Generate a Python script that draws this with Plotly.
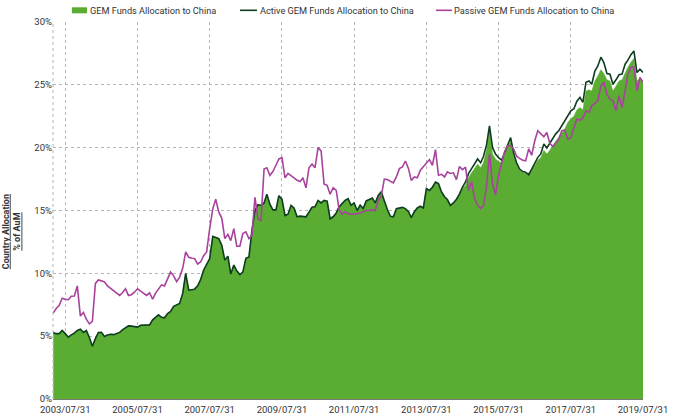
import pandas as pd
import plotly.graph_objects as go

# monthly observations, month-end, 2003/03 .. 2019/07
START = "2003-03-31"
END = "2019-07-31"

# GEM funds (all) allocation to China, % of AuM
GEM = [
    5.3, 5.2, 5.2, 5.45, 5.2, 4.92, 5.1, 5.24, 5.45, 5.56,
    5.3, 5.45, 4.9, 4.2, 4.8, 5.29, 5.3, 4.97, 5.1, 5.15,
    5.12, 5.2, 5.3, 5.5, 5.7, 5.82, 5.8, 5.75, 5.72, 5.87,
    5.87, 5.9, 5.9, 6.3, 6.5, 6.7, 6.5, 6.46, 6.8, 6.97,
    7.37, 7.5, 7.6, 8.4, 10.0, 8.66, 8.7, 8.74, 9.0, 9.5,
    10.26, 10.7, 11.18, 12.95, 12.85, 12.76, 12.24, 11.05, 11.37, 9.95,
    10.66, 10.2, 9.9, 10.1, 11.2, 11.3, 13.4, 15.0, 15.47, 15.4,
    15.6, 16.3, 15.5, 15.05, 15.05, 16.18, 15.9, 14.6, 14.7, 15.4,
    15.2, 14.5, 14.55, 14.55, 14.5, 14.87, 15.26, 15.3, 15.8, 15.6,
    15.8, 15.75, 14.34, 14.5, 14.8, 15.29, 15.55, 15.8, 15.95, 15.42,
    15.6, 15.0, 15.42, 15.15, 15.76, 15.9, 16.0, 15.6, 16.2, 16.5,
    15.7, 15.1, 14.55, 14.5, 15.15, 15.2, 15.25, 15.15, 14.9, 14.44,
    14.9, 15.2, 15.34, 15.2, 16.74, 16.6, 16.85, 17.27, 17.15, 16.48,
    16.1, 15.87, 15.4, 15.6, 15.9, 16.3, 16.8, 17.0, 17.6, 18.0,
    18.4, 18.7, 18.4, 18.8, 19.8, 21.4, 19.5, 19.1, 18.9, 18.8,
    19.4, 20.1, 20.5, 19.3, 18.6, 18.2, 18.0, 17.95, 17.8, 18.2,
    18.7, 19.0, 19.2, 19.8, 19.5, 19.8, 20.2, 20.5, 20.8, 21.1,
    21.5, 22.0, 22.3, 22.5, 23.0, 23.2, 23.0, 24.5, 24.6, 24.5,
    25.3, 25.7, 26.2, 25.9, 25.4, 25.3, 24.5, 24.9, 25.3, 25.4,
    26.0, 26.4, 26.8, 27.1, 25.3, 25.5, 25.2,
]

# active GEM funds allocation to China, % of AuM
ACTIVE = [
    5.3, 5.2, 5.2, 5.45, 5.2, 4.92, 5.1, 5.24, 5.45, 5.56,
    5.3, 5.45, 4.9, 4.2, 4.8, 5.29, 5.3, 4.97, 5.1, 5.15,
    5.12, 5.2, 5.3, 5.5, 5.7, 5.82, 5.8, 5.75, 5.72, 5.87,
    5.87, 5.9, 5.9, 6.3, 6.5, 6.7, 6.5, 6.46, 6.8, 6.97,
    7.37, 7.5, 7.6, 8.4, 10.0, 8.66, 8.7, 8.74, 9.0, 9.5,
    10.26, 10.7, 11.18, 12.95, 12.85, 12.76, 12.24, 11.05, 11.37, 9.95,
    10.66, 10.2, 9.9, 10.1, 11.2, 11.3, 13.4, 15.0, 15.47, 15.4,
    15.6, 16.3, 15.5, 15.05, 15.05, 16.18, 15.9, 14.6, 14.7, 15.4,
    15.2, 14.5, 14.55, 14.55, 14.5, 14.87, 15.26, 15.3, 15.8, 15.6,
    15.8, 15.75, 14.34, 14.5, 14.8, 15.29, 15.55, 15.8, 15.95, 15.42,
    15.6, 15.0, 15.42, 15.15, 15.76, 15.9, 16.0, 15.6, 16.2, 16.5,
    15.7, 15.1, 14.55, 14.5, 15.15, 15.2, 15.25, 15.15, 14.9, 14.44,
    14.9, 15.2, 15.34, 15.2, 16.74, 16.6, 16.85, 17.27, 17.15, 16.48,
    16.1, 15.87, 15.4, 15.6, 15.9, 16.3, 16.87, 17.27, 17.93, 18.33,
    18.73, 19.1, 18.8, 19.3, 20.2, 21.74, 20.0, 19.5, 19.2, 19.0,
    19.6, 20.3, 20.8, 19.55, 18.75, 18.3, 18.1, 18.04, 17.85, 18.3,
    18.83, 19.23, 19.5, 20.3, 19.97, 20.34, 20.7, 21.1, 21.35, 21.74,
    22.1, 22.6, 22.93, 23.1, 23.7, 24.0, 23.6, 25.2, 25.3, 25.05,
    26.1, 26.5, 27.2, 26.77, 25.9, 25.85, 25.05, 25.4, 25.8, 25.85,
    26.64, 26.96, 27.4, 27.7, 25.98, 26.24, 25.98,
]

# passive GEM funds allocation to China, % of AuM
PASSIVE = [
    6.83, 7.2, 7.46, 8.02, 7.94, 7.9, 8.18, 8.2, 9.0, 6.6,
    6.88, 6.35, 5.98, 6.17, 9.2, 9.48, 9.4, 9.31, 9.0, 8.8,
    8.58, 8.4, 8.24, 8.45, 8.77, 8.24, 8.3, 8.5, 8.77, 8.58,
    8.4, 8.24, 8.45, 7.94, 8.45, 8.8, 9.08, 9.0, 9.5, 10.1,
    9.8, 9.34, 9.7, 10.4, 11.7, 11.28, 11.2, 11.18, 10.74, 10.9,
    11.4, 11.7, 13.55, 15.13, 15.9, 14.87, 14.4, 12.76, 13.1, 12.6,
    13.55, 12.16, 12.16, 13.16, 13.3, 12.76, 13.0, 16.05, 14.34, 14.2,
    18.3, 18.4, 17.8, 18.1, 18.6, 19.1, 19.2, 17.6, 17.95, 17.8,
    17.6, 17.4, 17.3, 17.6, 16.8, 18.4, 18.7, 18.4, 20.0, 19.74,
    17.1, 17.0, 16.3, 16.8, 16.6, 15.1, 14.7, 14.9, 14.75, 14.7,
    14.7, 14.75, 14.8, 14.9, 15.0, 15.0, 15.05, 15.0, 15.8, 16.13,
    17.5, 17.46, 17.3, 17.2, 17.67, 18.33, 18.46, 18.94, 18.33, 17.4,
    17.67, 17.6, 18.2, 18.5, 18.78, 19.05, 18.6, 19.84, 17.8, 17.88,
    17.67, 18.07, 17.95, 18.0, 17.46, 18.5, 18.25, 18.45, 16.6, 17.27,
    15.95, 15.42, 15.15, 15.4, 16.85, 19.5, 17.1, 16.26, 17.8, 18.9,
    19.7, 20.15, 20.15, 19.9, 19.3, 19.15, 19.0, 18.95, 19.9, 19.4,
    20.55, 21.35, 21.08, 20.87, 21.2, 20.34, 20.07, 20.34, 20.68, 21.35,
    21.4, 20.68, 20.8, 21.6, 22.27, 22.2, 22.35, 22.93, 22.8, 23.33,
    23.5, 23.73, 24.9, 25.2, 24.26, 23.86, 23.73, 22.93, 24.13, 23.2,
    24.52, 25.85, 26.4, 26.43, 24.52, 25.58, 25.2,
]

SERIES_NAMES = ["GEM Funds Allocation to China",
                "Active GEM Funds Allocation to China",
                "Passive GEM Funds Allocation to China"]

X_TICKS = ["2003-07-31", "2005-07-31", "2007-07-31", "2009-07-31", "2011-07-31",
           "2013-07-31", "2015-07-31", "2017-07-31", "2019-07-31"]
X_TICK_LABELS = ["2003/07/31", "2005/07/31", "2007/07/31", "2009/07/31", "2011/07/31",
                 "2013/07/31", "2015/07/31", "2017/07/31", "2019/07/31"]
Y_TICKS = [0, 5, 10, 15, 20, 25, 30]
Y_TICK_LABELS = ["0%", "5%", "10%", "15%", "20%", "25%", "30%"]

dates = pd.date_range(START, END, freq="ME")

FONT = "Roboto, sans-serif"
GREEN = "#5aad32"
DARK = "#0e3d1f"
PURPLE = "#a8439d"

fig = go.Figure()
fig.add_trace(go.Scatter(
    x=dates, y=GEM, name=SERIES_NAMES[0],
    mode="lines", line=dict(color=GREEN, width=0.5),
    fill="tozeroy", fillcolor=GREEN,
))
fig.add_trace(go.Scatter(
    x=dates, y=ACTIVE, name=SERIES_NAMES[1],
    mode="lines", line=dict(color=DARK, width=1.6),
))
fig.add_trace(go.Scatter(
    x=dates, y=PASSIVE, name=SERIES_NAMES[2],
    mode="lines", line=dict(color=PURPLE, width=1.6),
))

# dotted left border of the plot frame
fig.add_shape(type="line", xref="paper", yref="paper", x0=0, x1=0, y0=0, y1=1,
              line=dict(color="#b5b5b5", width=1, dash="dot"))

# legend drawn by hand so it stays on one row above the plot
LEG_Y = 1.031
legend_items = [
    (0.032, 0.0576, 0.060, GREEN, "rect"),
    (0.317, 0.3458, 0.347, DARK, "line"),
    (0.649, 0.6763, 0.677, PURPLE, "line"),
]
for (x0, x1, xt, col, kind), name in zip(legend_items, SERIES_NAMES):
    if kind == "rect":
        fig.add_shape(type="rect", xref="paper", yref="paper", x0=x0, x1=x1,
                      y0=LEG_Y - 0.008, y1=LEG_Y + 0.008,
                      fillcolor=col, line=dict(width=0))
    else:
        fig.add_shape(type="line", xref="paper", yref="paper", x0=x0, x1=x1,
                      y0=LEG_Y, y1=LEG_Y, line=dict(color=col, width=1.6))
    fig.add_annotation(text=name, xref="paper", yref="paper", x=xt, y=LEG_Y,
                       xanchor="left", yanchor="middle", showarrow=False,
                       font=dict(family=FONT, size=9.2, color="#333333"))

fig.add_annotation(
    text="<b><u>Country Allocation</u></b><br><b><u>% of AuM</u></b>",
    xref="paper", yref="paper", x=-0.0695, y=0.445,
    textangle=-90, showarrow=False, xanchor="center", yanchor="middle",
    font=dict(family=FONT, size=9, color="#333333"),
)

fig.update_layout(
    width=680, height=418,
    margin=dict(l=53, r=37, t=22, b=19),
    paper_bgcolor="white", plot_bgcolor="white",
    font=dict(family=FONT, size=9.5, color="#333333"),
    showlegend=False,
    xaxis=dict(
        type="date", range=["2003-03-29", END],
        tickvals=X_TICKS, ticktext=X_TICK_LABELS,
        showgrid=True, gridcolor="#b5b5b5", griddash="dot", gridwidth=1,
        showline=True, linecolor="#7a7a7a", linewidth=1,
        ticks="", tickfont=dict(size=9.5, color="#333333"),
        ticklabelstandoff=2,
        zeroline=False, automargin=False,
    ),
    yaxis=dict(
        range=[0, 30], tickvals=Y_TICKS, ticktext=Y_TICK_LABELS,
        showgrid=True, gridcolor="#b5b5b5", griddash="dot", gridwidth=1,
        zeroline=False, ticks="", tickfont=dict(size=9.5, color="#333333"),
        automargin=False,
    ),
)

# page body margin would shift the 680x418 figure; remove it
fig.write_html("out.html", config={"displayModeBar": False},
               post_script="document.body.style.margin='0';")
